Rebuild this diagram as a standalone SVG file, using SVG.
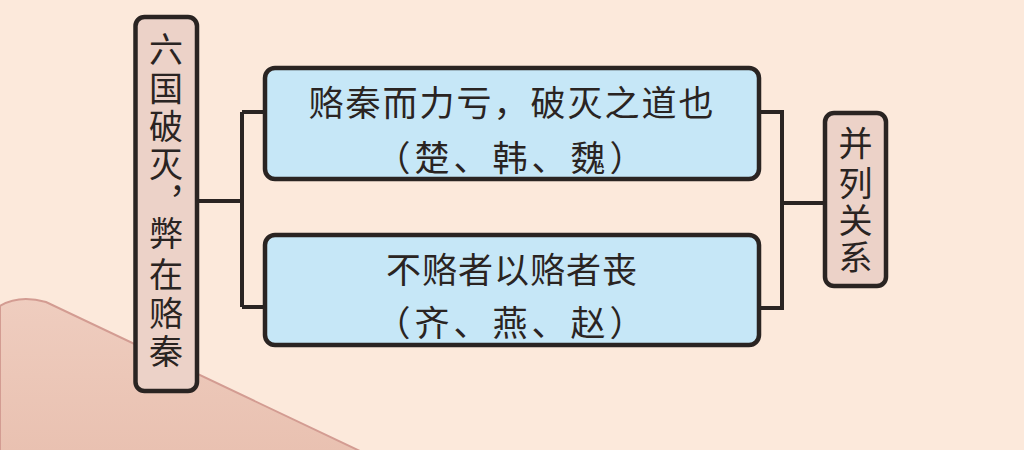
<svg xmlns="http://www.w3.org/2000/svg" width="1024" height="450" viewBox="0 0 1024 450">
<defs>
<linearGradient id="hill" x1="0" y1="0" x2="0" y2="1">
<stop offset="0" stop-color="#efcdbf"/>
<stop offset="1" stop-color="#e9c1b1"/>
</linearGradient>
</defs>
<style>
.box{stroke:#2a2422;stroke-width:4.5}
.side{fill:#ecd2c8}
.blue{fill:#c6e7f7}
.t{font-family:"Noto Sans CJK SC","Noto Sans CJK TC",sans-serif;fill:#2a2422;text-anchor:middle;dominant-baseline:central}
.h{font-size:35px}
.v{font-size:34px}
.con{fill:none;stroke:#2a2422;stroke-width:4}
</style>
<rect x="0" y="0" width="1024" height="450" fill="#fce9db"/>
<path d="M0,306 C10,300 24,296 46,302 L362,452 L0,452 Z" fill="url(#hill)" stroke="#d39c92" stroke-width="2"/>
<g id="connectors">
<path class="con" d="M199,201 H242 M242,112 V307 M242,112 H265 M242,307 H265"/>
<path class="con" d="M759,112 H782 V308 H759 M782,203 H823"/>
</g>
<g id="left">
<rect class="box side" x="135.5" y="17" width="61.5" height="374" rx="9"/>
<text class="t v" x="166" y="47">六</text>
<text class="t v" x="166" y="86">国</text>
<text class="t v" x="166" y="124">破</text>
<text class="t v" x="166" y="162">灭</text>
<text class="t v" x="186" y="178">，</text>
<text class="t v" x="166" y="231">弊</text>
<text class="t v" x="166" y="272">在</text>
<text class="t v" x="166" y="311">赂</text>
<text class="t v" x="166" y="349">秦</text>
</g>
<g id="top">
<rect class="box blue" x="265" y="68" width="494" height="111" rx="10"/>
<text class="t h" x="512" y="100" letter-spacing="2">赂秦而力亏，破灭之道也</text>
<text class="t h" x="512" y="155" letter-spacing="4">（楚、韩、魏）</text>
</g>
<g id="bottom">
<rect class="box blue" x="265" y="235" width="494" height="110" rx="10"/>
<text class="t h" x="512" y="267" letter-spacing="1">不赂者以赂者丧</text>
<text class="t h" x="512" y="320" letter-spacing="4">（齐、燕、赵）</text>
</g>
<g id="right">
<rect class="box side" x="825" y="113" width="61" height="173" rx="9"/>
<text class="t v" x="855.5" y="141">并</text>
<text class="t v" x="855.5" y="181">列</text>
<text class="t v" x="855.5" y="218">关</text>
<text class="t v" x="855.5" y="255">系</text>
</g>
</svg>
